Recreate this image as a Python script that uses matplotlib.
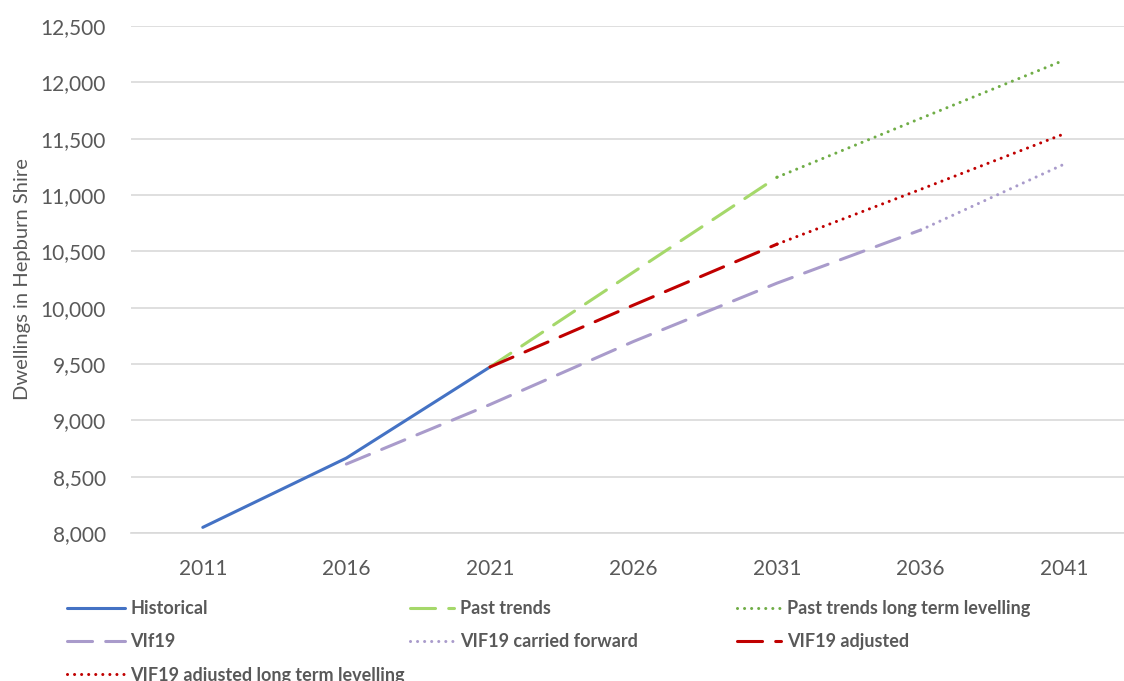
import matplotlib.pyplot as plt
from matplotlib.ticker import FuncFormatter

plt.rcParams['font.family'] = ['Lato', 'DejaVu Sans']

years = ['2011', '2016', '2021', '2026', '2031', '2036', '2041']

# Dwellings in Hepburn Shire (None = no value for that year)
historical = [8050, 8665, 9473, None, None, None, None]
past_trends = [None, None, 9473, 10316, 11158, None, None]
past_trends_lt = [None, None, None, None, 11158, 11680, 12197]
vif19 = [None, 8612, 9140, 9700, 10218, 10689, None]
vif19_carried = [None, None, None, None, None, 10689, 11274]
vif19_adjusted = [None, None, 9473, 10023, 10564, None, None]
vif19_adjusted_lt = [None, None, None, None, 10564, 11050, 11543]

x = list(range(len(years)))


def pts(vals):
    xs = [i for i, v in zip(x, vals) if v is not None]
    ys = [v for v in vals if v is not None]
    return xs, ys


fig = plt.figure(figsize=(11.24, 6.81), dpi=100)
ax = fig.add_axes([131 / 1124, 1 - 533 / 681, 1005 / 1124, 507 / 681])

lw = 2.2
long_dash = (0, (8.2, 4.3))
dot = (0, (0.01, 2.3))

series = [
    ('Historical', historical, '#4472C4', '-'),
    ('Past trends', past_trends, '#A5D86A', long_dash),
    ('Past trends long term levelling', past_trends_lt, '#70AD47', dot),
    ('VIf19', vif19, '#A99BCB', long_dash),
    ('VIF19 carried forward', vif19_carried, '#A99BCB', dot),
    ('VIF19 adjusted', vif19_adjusted, '#C00000', long_dash),
    ('VIF19 adjusted long term levelling', vif19_adjusted_lt, '#C00000', dot),
]

handles = {}
for name, vals, color, ls in series:
    xs, ys = pts(vals)
    line, = ax.plot(xs, ys, color=color, lw=lw, linestyle=ls,
                    dash_capstyle='round', solid_capstyle='round', label=name)
    handles[name] = line

ax.set_xlim(-0.5, len(years) - 0.5)
ax.set_ylim(8000, 12500)
ax.set_yticks(range(8000, 12501, 500))
ax.yaxis.set_major_formatter(FuncFormatter(lambda v, p: f'{int(v):,}'))
ax.set_xticks(x)
ax.set_xticklabels(years)
ax.tick_params(length=0, labelsize=15, colors='#595959')
ax.tick_params(axis='x', pad=19)
ax.tick_params(axis='y', pad=18)
ax.grid(axis='y', color='#D9D9D9', lw=1.2)
ax.set_axisbelow(True)
for s in ['top', 'right', 'left']:
    ax.spines[s].set_visible(False)
ax.spines['bottom'].set_color('#D9D9D9')
ax.spines['bottom'].set_linewidth(1.2)

ax.set_ylabel('Dwellings in Hepburn Shire', fontsize=14.5, color='#595959', labelpad=7)

# legend laid out as three columns: (left edge px, handle length, entries)
columns = [
    (67, 3.2, ['Historical', 'VIf19', 'VIF19 adjusted long term levelling']),
    (410, 2.45, ['Past trends', 'VIF19 carried forward']),
    (737, 2.45, ['Past trends long term levelling', 'VIF19 adjusted']),
]
for x0, hl, names in columns:
    leg = fig.legend([handles[n] for n in names], names,
                     loc='upper left', bbox_to_anchor=(x0 / 1124, 1 - 600 / 681),
                     frameon=False, borderpad=0, borderaxespad=0,
                     handlelength=hl, handletextpad=0.3, labelspacing=0.9,
                     prop={'weight': 'bold', 'size': 13})
    for t in leg.get_texts():
        t.set_color('#595959')

fig.savefig('out.png', dpi=100)
